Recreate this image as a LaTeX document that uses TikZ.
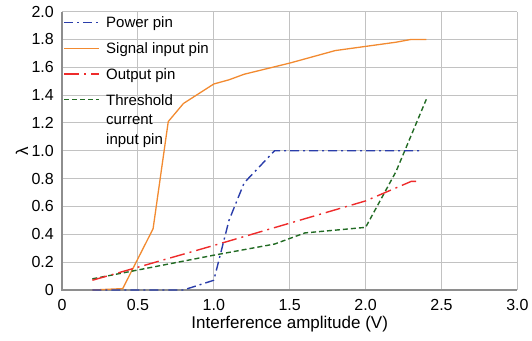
\documentclass[tikz,border=0pt]{standalone}
\usepackage{fontspec}
\setmainfont{Liberation Sans}
\definecolor{gridgray}{HTML}{C2C2C2}
\definecolor{axisgray}{HTML}{8E8E8E}
\definecolor{powerblue}{HTML}{2A3DAA}
\definecolor{signalorange}{HTML}{F28A30}
\definecolor{outputred}{HTML}{EE2B2B}
\definecolor{thresholdgreen}{HTML}{226B24}
\begin{document}
\begin{tikzpicture}[x=1pt,y=1pt,
  gridline/.style={gridgray, line width=1pt},
  axisline/.style={axisgray, line width=1.6pt},
  ticklabel/.style={font=\fontsize{16}{16}\selectfont, inner sep=0pt},
  titlefont/.style={font=\fontsize{17}{17}\selectfont, inner sep=0pt},
  legendtext/.style={font=\fontsize{15}{19.5}\selectfont, inner sep=0pt, anchor=base west, align=left},
  powerline/.style={powerblue, line width=1.4pt, dash pattern=on 9pt off 4pt on 2pt off 4pt},
  signalline/.style={signalorange, line width=1.3pt, line join=round},
  outputline/.style={outputred, line width=1.4pt, dash pattern=on 15pt off 5pt on 2pt off 5pt},
  thresholdline/.style={thresholdgreen, line width=1.4pt, dash pattern=on 5pt off 3pt}]
\useasboundingbox (0,0) rectangle (532,340);

% plot area: origin at the lower left corner of the grid
\begin{scope}[shift={(62,50)}, x=151.8pt, y=139.2pt]
  \foreach \i in {0,...,6} \draw[gridline] (\i*0.5,0) -- (\i*0.5,2);
  \foreach \j in {0,...,10} \draw[gridline] (0,\j*0.2) -- (3,\j*0.2);
  \draw[axisline] (0,2) -- (0,0) -- (3,0);

  % tick labels
  \foreach \v/\t in {0/0,0.2/0.2,0.4/0.4,0.6/0.6,0.8/0.8,1.0/1.0,1.2/1.2,1.4/1.4,1.6/1.6,1.8/1.8,2.0/2.0}
    \node[ticklabel, anchor=east, xshift=-8pt] (ylab\t) at (0,\v) {\t};
  \foreach \v/\t in {0/0,0.5/0.5,1.0/1.0,1.5/1.5,2.0/2.0,2.5/2.5,3.0/3.0}
    \node[ticklabel, anchor=north, yshift=-9.5pt] (xlab\t) at (\v,0) {\t};

  % axis titles
  \node[titlefont, anchor=base, yshift=-38pt] (xtitle) at (1.5,0) {Interference amplitude (V)};
  \node[titlefont, rotate=90] (ytitle) at (-40pt,1.0) {λ};

  % measured curves
  \draw[signalline] (0.2,0) -- (0.4,0.01) -- (0.6,0.44) -- (0.7,1.21) -- (0.8,1.34)
    -- (1.0,1.48) -- (1.1,1.51) -- (1.2,1.55) -- (1.5,1.63) -- (1.8,1.72)
    -- (2.0,1.75) -- (2.2,1.78) -- (2.3,1.80) -- (2.4,1.80);
  \draw[thresholdline] (0.2,0.08) -- (1.0,0.25) -- (1.4,0.33) -- (1.6,0.41)
    -- (2.0,0.45) -- (2.2,0.85) -- (2.4,1.37);
  \draw[outputline] (0.2,0.07) -- (1.0,0.32) -- (2.0,0.64) -- (2.3,0.78) -- (2.35,0.78);
  \draw[powerline] (0.2,0) -- (0.8,0) -- (1.0,0.07) -- (1.1,0.5) -- (1.2,0.77)
    -- (1.4,1.0) -- (2.36,1.0);
\end{scope}

% legend
\coordinate (lp1) at (64,317.5);  \coordinate (lp2) at (99,317.5);
\coordinate (ls1) at (64,291.7);  \coordinate (ls2) at (99,291.7);
\coordinate (lo1) at (64,266);    \coordinate (lo2) at (99,266);
\coordinate (lt1) at (64,240.7);  \coordinate (lt2) at (99,240.7);
\draw[powerline] (lp1) -- (lp2);
\draw[signalline] (ls1) -- (ls2);
\draw[outputline] (lo1) -- (lo2);
\draw[thresholdline] (lt1) -- (lt2);
\node[legendtext] (legpower) at (106,312.3) {Power pin};
\node[legendtext] (legsignal) at (106,286) {Signal input pin};
\node[legendtext] (legoutput) at (106,260.7) {Output pin};
\node[legendtext, anchor=north west] (legthreshold) at (106,245.8) {Threshold\\current\\input pin};
\end{tikzpicture}
\end{document}
